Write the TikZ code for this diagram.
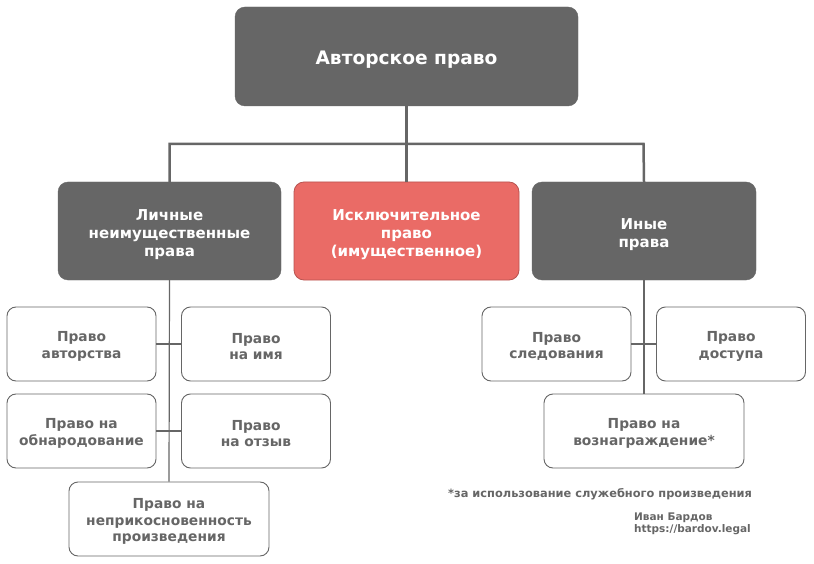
\documentclass[tikz,border=0pt]{standalone}
\usepackage{fontspec}
\setmainfont{DejaVu Sans}
\definecolor{dgray}{HTML}{666666}
\definecolor{redfill}{HTML}{EA6B66}
\definecolor{redline}{HTML}{B85450}
\newcommand{\dnA}{\rule{0pt}{19pt}}
\newcommand{\dnB}{\rule{0pt}{15pt}}
\begin{document}
\begin{tikzpicture}[x=1pt,y=-1pt,
  darkbox/.style={fill=dgray, draw=dgray, rounded corners=10pt, text=white, font=\bfseries\fontsize{15}{18}\selectfont, align=center, inner sep=0pt},
  redbox/.style={fill=redfill, draw=redline, line width=0.8pt, rounded corners=10pt, text=white, font=\bfseries\fontsize{15}{18}\selectfont, align=center, inner sep=0pt},
  whitebox/.style={fill=white, draw=dgray, line width=0.9pt, rounded corners=9pt, text=dgray, font=\bfseries\fontsize{13.8}{16.5}\selectfont, align=center, inner sep=0pt, minimum width=149pt, minimum height=74pt},
  conn/.style={draw=dgray, line width=2.5pt},
  thin/.style={draw=dgray, line width=1.2pt},
  note/.style={text=dgray, font=\bfseries\fontsize{11.4}{13}\selectfont, inner sep=0pt}
]
\useasboundingbox[fill=white] (0,0) rectangle (814,564);

\node[darkbox, minimum width=343pt, minimum height=99pt, font=\bfseries\fontsize{18.6}{22}\selectfont] (root) at (406.5,56.5) {\rule{0pt}{20pt}Авторское право};

\node[darkbox, minimum width=223pt, minimum height=98pt] (pers) at (169.5,231) {\dnA Личные\\неимущественные\\права};
\node[redbox, minimum width=225pt, minimum height=98pt] (excl) at (406.5,231) {\dnA Исключительное\\право\\(имущественное)};
\node[darkbox, minimum width=224pt, minimum height=98pt] (other) at (644,231) {\dnA Иные\\права};

\coordinate (hb) at (406.5,144);
\coordinate (hl) at (169.5,144);
\coordinate (hr) at (643.5,144);
\draw[conn] (root.south) -- (hb);
\draw[conn] (pers.north) -- (hl) -- (hr) -- (other.north);
\draw[conn] (hb) -- (excl.north);

% left subtree
\node[whitebox] (a1) at (81.5,344) {\dnB Право\\авторства};
\node[whitebox] (a2) at (256,344) {\dnB Право\\на имя};
\node[whitebox] (a3) at (81.5,431) {\dnB Право на\\обнародование};
\node[whitebox] (a4) at (256,431) {\dnB Право\\на отзыв};
\node[whitebox, minimum width=200pt] (a5) at (169,519) {\dnB Право на\\неприкосновенность\\произведения};

\draw[thin] (pers.south) -- (a5.north);
\draw[thin] (a1.east) -- (a2.west);
\draw[thin] (a3.east) -- (a4.west);

% right subtree
\node[whitebox] (b1) at (556.5,344) {\dnB Право\\следования};
\node[whitebox] (b2) at (731,344) {\dnB Право\\доступа};
\node[whitebox, minimum width=200pt] (b3) at (644,431) {\dnB Право на\\вознаграждение*};

\coordinate (rj) at (644,344);
\draw[conn, line width=2pt] (other.south) -- (rj);
\draw[thin] (rj) -- (b3.north);
\draw[thin] (b1.east) -- (b2.west);

% notes
\node[note, anchor=north west] (fn) at (448,488) {*за использование служебного произведения};
\node[note, anchor=north west, align=left, font=\bfseries\fontsize{10.5}{12}\selectfont] (au) at (634,513) {Иван Бардов\\https://bardov.legal};
\end{tikzpicture}
\end{document}
